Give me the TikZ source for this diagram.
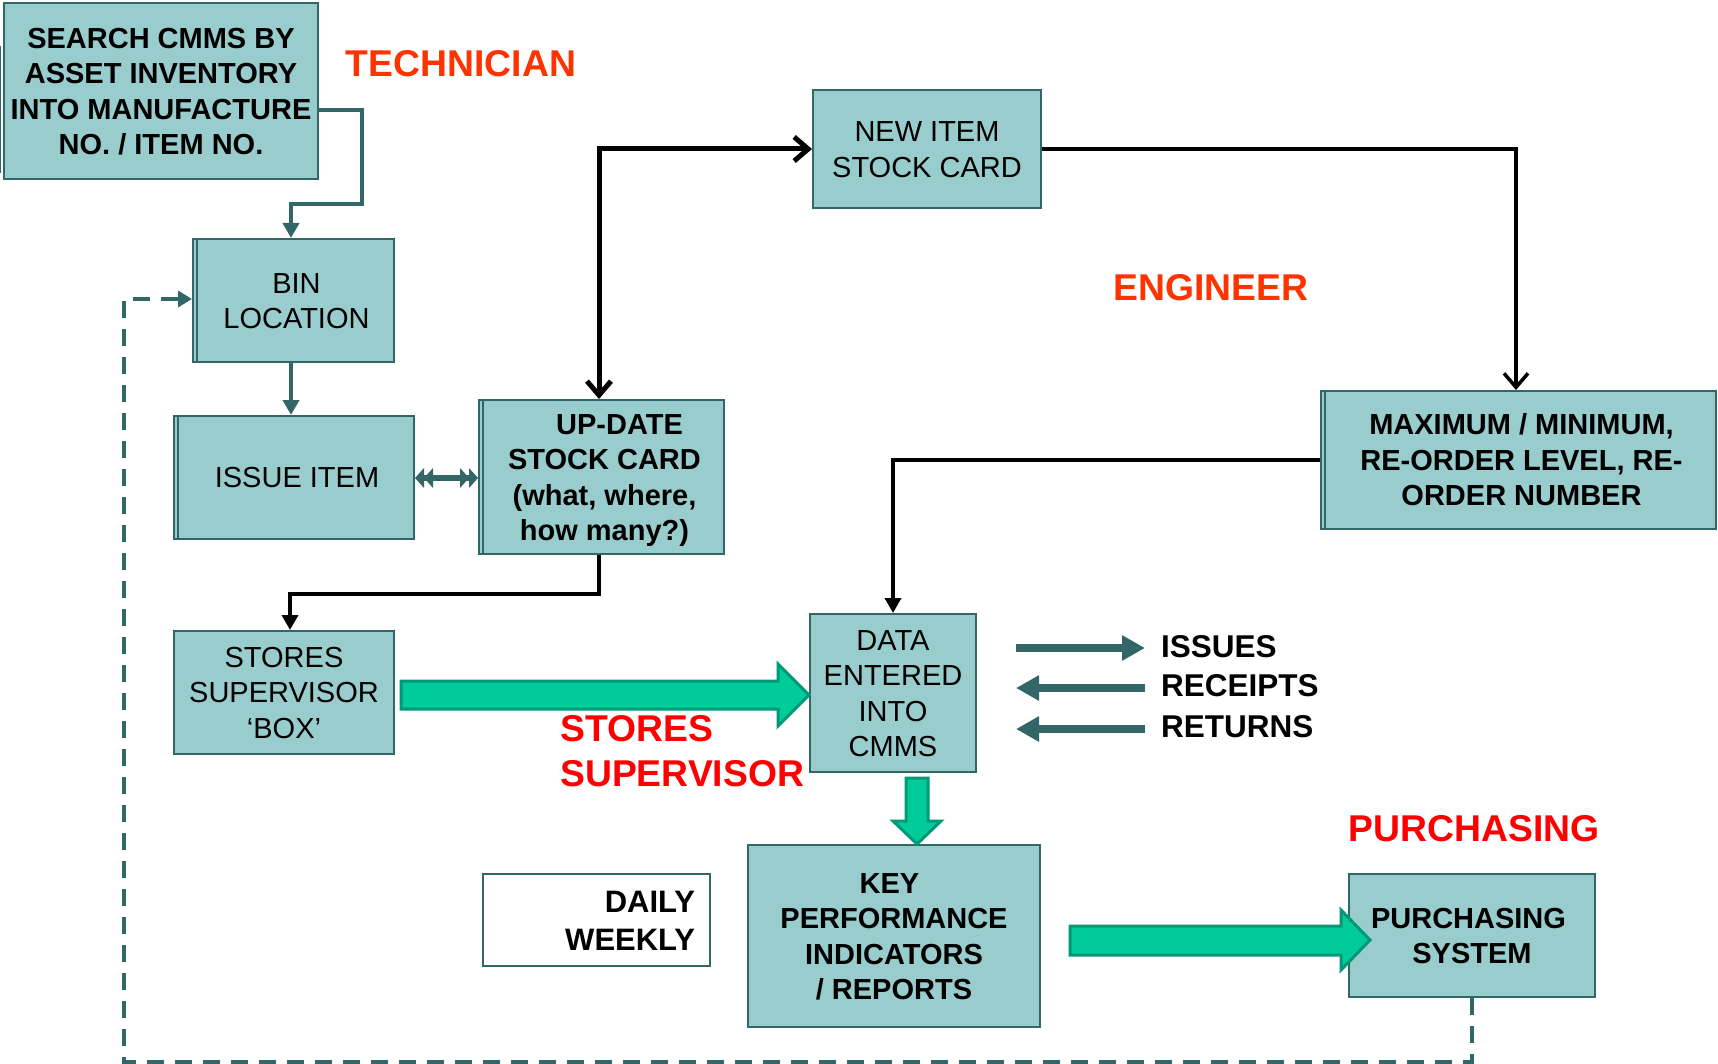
\documentclass[tikz,border=0pt]{standalone}
\usepackage{fontspec}
\setmainfont{Liberation Sans}
\usetikzlibrary{arrows.meta,calc}
\definecolor{boxfill}{HTML}{99CCCC}
\definecolor{boxedge}{HTML}{336666}
\definecolor{flowgreen}{HTML}{00CC99}
\definecolor{flowgreenedge}{HTML}{009977}
\definecolor{roleorange}{HTML}{FF3300}
\definecolor{rolered}{HTML}{FF0000}
\newcommand{\boxfont}{\fontsize{29pt}{35.5pt}\selectfont}
\newcommand{\rolefont}{\fontsize{37.3pt}{45pt}\selectfont\bfseries}
% struts that centre the capitals of a text block on its node centre
\newcommand{\topstrut}{\vrule height .966em depth 0pt width 0pt\relax}
\newcommand{\botstrut}{\vrule height 0pt depth .25em width 0pt\relax}
\begin{document}
\begin{tikzpicture}[x=1pt,y=-1pt,
  box/.style={draw=boxedge, line width=2pt, fill=boxfill, rectangle,
    inner sep=0pt, align=center, font=\boxfont},
  boldbox/.style={box, font=\boxfont\bfseries},
  edgeline/.style={draw=boxedge, line width=2pt},
  tealflow/.style={draw=boxedge, line width=4pt,
    -{Triangle[length=15pt,width=16pt]}},
  tealdash/.style={draw=boxedge, line width=4pt, dash pattern=on 17pt off 11pt,
    -{Triangle[length=14pt,width=16pt]}},
  tealtwin/.style={draw=boxedge, line width=6pt,
    arrows={Triangle[length=9pt,width=20pt,line width=0pt]Triangle[length=9pt,width=20pt,line width=0pt]-Triangle[length=9pt,width=20pt,line width=0pt]Triangle[length=9pt,width=20pt,line width=0pt]}},
  thickbarb/.style={draw=black, line width=5pt, line join=miter,
    {Straight Barb[length=14pt,width=24pt]}-{Straight Barb[length=14pt,width=24pt]}},
  thinbarb/.style={draw=black, line width=3.5pt,
    -{Straight Barb[length=14pt,width=24pt]}},
  blackflow/.style={draw=black, line width=3.5pt,
    -{Triangle[length=15pt,width=16pt]}},
  listarrow/.style={draw=boxedge, line width=8pt,
    -{Triangle[length=23pt,width=24pt]}},
  blockarrow/.style={fill=flowgreen, draw=flowgreenedge, line width=3pt, line join=miter},
  role/.style={font=\rolefont, inner sep=0pt},
  listlabel/.style={font=\fontsize{31.5pt}{37pt}\selectfont\bfseries, anchor=west, inner sep=0pt}
]
\useasboundingbox (0,0) rectangle (1718,1064);

% ---- process boxes ----
\node[boldbox, minimum width=314pt, minimum height=176pt] (search) at (161,91)
  {\topstrut SEARCH CMMS BY\\ASSET INVENTORY\\INTO MANUFACTURE\\NO. / ITEM NO.\botstrut};
\draw[edgeline] ([xshift=-3pt,yshift=-44pt]search.north west) -- ([xshift=-3pt,yshift=7pt]search.south west);

\node[box, minimum width=201pt, minimum height=123pt] (bin) at (293.5,300.5)
  {\topstrut\hspace*{6pt}BIN\\\hspace*{6pt}LOCATION\botstrut};
\draw[edgeline] ([xshift=5pt]bin.north west) -- ([xshift=5pt]bin.south west);

\node[box, minimum width=240pt, minimum height=123pt] (issue) at (294,477.5)
  {\topstrut\hspace*{6pt}ISSUE ITEM\botstrut};
\draw[edgeline] ([xshift=5pt]issue.north west) -- ([xshift=5pt]issue.south west);

\node[boldbox, minimum width=245pt, minimum height=154pt] (update) at (601.5,477)
  {\topstrut\hspace*{36pt}UP-DATE\\\hspace*{6pt}STOCK CARD\\\hspace*{6pt}(what, where,\\\hspace*{6pt}how many?)\botstrut};
\draw[edgeline] ([xshift=5pt]update.north west) -- ([xshift=5pt]update.south west);

\node[box, minimum width=228pt, minimum height=118pt] (newitem) at (927,149)
  {\topstrut NEW ITEM\\STOCK CARD\botstrut};

\node[boldbox, minimum width=395pt, minimum height=138pt] (max) at (1518.5,460)
  {\topstrut\hspace*{6pt}MAXIMUM / MINIMUM,\\\hspace*{6pt}RE-ORDER LEVEL, RE-\\\hspace*{6pt}ORDER NUMBER\botstrut};
\draw[edgeline] ([xshift=5pt]max.north west) -- ([xshift=5pt]max.south west);

\node[box, minimum width=220pt, minimum height=123pt] (stores) at (284,692.5)
  {\topstrut STORES\\SUPERVISOR\\‘BOX’\botstrut};

\node[box, minimum width=166pt, minimum height=158pt] (data) at (893,693)
  {\topstrut DATA\\ENTERED\\INTO\\CMMS\botstrut};

\node[boldbox, minimum width=292pt, minimum height=182pt] (kpi) at (894,936)
  {\topstrut KEY\hspace*{9pt}\\PERFORMANCE\hspace*{9pt}\\INDICATORS\hspace*{9pt}\\/ REPORTS\botstrut};

\node[boldbox, fill=white, minimum width=227pt, minimum height=92pt, text width=197pt,
  align=right, font=\fontsize{31pt}{38pt}\selectfont\bfseries] (period) at (596.5,920)
  {\topstrut DAILY\\WEEKLY\botstrut};

\node[boldbox, minimum width=246pt, minimum height=123pt] (purch) at (1472,935.5)
  {\topstrut PURCHASING\hspace*{7pt}\\SYSTEM\botstrut};

% ---- role labels ----
\node[role, text=roleorange] (technician) at (461,64) {TECHNICIAN};
\node[role, text=roleorange] (engineer) at (1211,288) {ENGINEER};
\node[role, text=rolered, align=left, anchor=west] (supervisor) at (560,751.5) {STORES\\SUPERVISOR};
\node[role, text=rolered] (purchasing) at (1474,829) {PURCHASING};

% ---- transaction list ----
\node[listlabel] (issues) at (1161,647) {ISSUES};
\node[listlabel] (receipts) at (1161,686) {RECEIPTS};
\node[listlabel] (returns) at (1161,727) {RETURNS};
\draw[listarrow] ([xshift=-145pt,yshift=-1pt]issues.west) -- ([xshift=-16pt,yshift=-1pt]issues.west);
\draw[listarrow] ([xshift=-16pt,yshift=-2pt]receipts.west) -- ([xshift=-145pt,yshift=-2pt]receipts.west);
\draw[listarrow] ([xshift=-16pt,yshift=-2pt]returns.west) -- ([xshift=-145pt,yshift=-2pt]returns.west);

% ---- connectors ----
\draw[tealflow] ([yshift=-19pt]search.east) -| (362,204) -| ([xshift=-2.5pt]bin.north);
\draw[tealflow] ([xshift=-2.5pt]bin.south) -- ([xshift=-2.5pt]bin.south |- issue.north);
\draw[tealtwin] ([yshift=-0.5pt]issue.east) -- ([yshift=-0.5pt]issue.east -| update.west);
\draw[thickbarb] ([xshift=-2.5pt]update.north) |- (newitem.west);
\draw[thinbarb] (newitem.east) -| ([xshift=-2.5pt]max.north);
\draw[blackflow] (max.west) -| (data.north);
\draw[blackflow] ([xshift=-2.5pt]update.south) -- ++(0,39) -| ([xshift=6pt]stores.north);
\draw[tealdash] (purch.south) -- ++(0,64) -| (124,299) -- (bin.west |- 0,299);

% ---- block arrows ----
\draw[blockarrow] (401,681) -- (778,681) -- (778,664) -- (data.west |- 0,695) -- (778,726)
  -- (778,709) -- (401,709) -- cycle;
\draw[blockarrow] (906,778) -- (928,778) -- (928,821) -- (941,821) -- ([xshift=23pt]kpi.north)
  -- (893,821) -- (906,821) -- cycle;
\draw[blockarrow] (1070,926) -- (1341,926) -- (1341,910) -- (1370,940) -- (1341,970)
  -- (1341,955) -- (1070,955) -- cycle;
\end{tikzpicture}
\end{document}
